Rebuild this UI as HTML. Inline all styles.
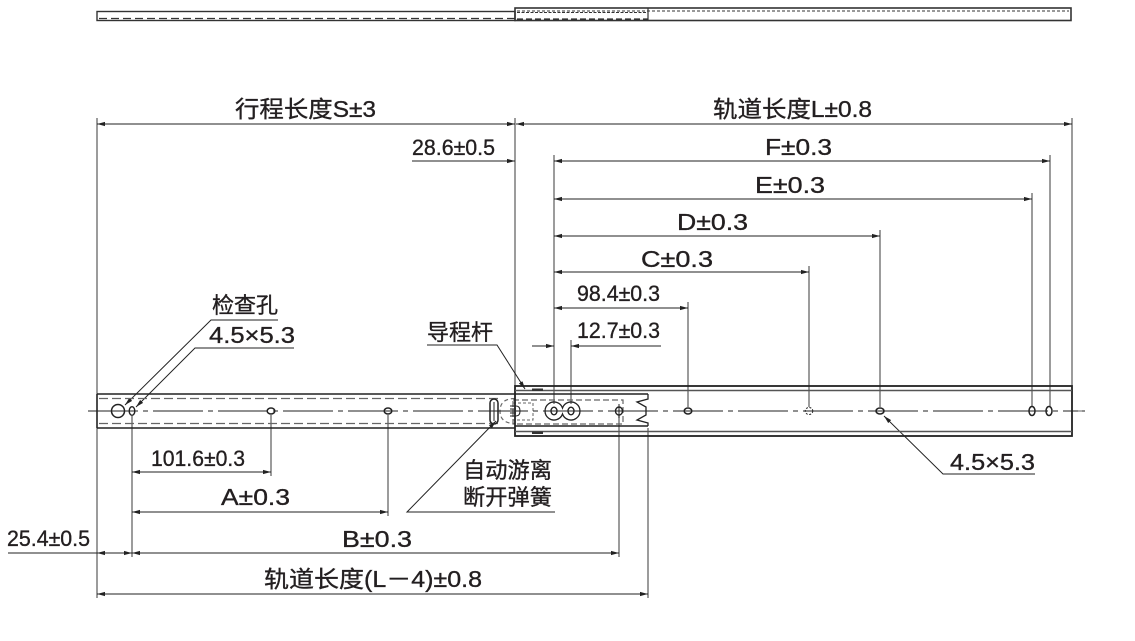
<!DOCTYPE html>
<html><head><meta charset="utf-8"><style>
html,body{margin:0;padding:0;background:#fff;}
svg{display:block;}
text{font-family:"Liberation Sans","Noto Sans CJK SC",sans-serif;fill:#231f20;stroke:#231f20;stroke-width:0.35px;}
</style></head><body>
<svg width="1135" height="641" viewBox="0 0 1135 641" xmlns="http://www.w3.org/2000/svg">
<defs>
<marker id="a" markerWidth="10" markerHeight="6" refX="8" refY="3" orient="auto-start-reverse" markerUnits="userSpaceOnUse"><path d="M0,0.9 L8,3 L0,5.1 Z" fill="#222"/></marker>
</defs>

<!-- top view bar -->
<g fill="none" stroke="#333">
<rect x="97" y="11.5" width="418" height="9" stroke-width="1.4" fill="#fff"/>
<line x1="99" y1="18.5" x2="515" y2="18.5" stroke-dasharray="8 4" stroke-width="1.2"/>
<rect x="515" y="8" width="556" height="12.5" stroke-width="1.6"/>
<line x1="517" y1="11" x2="1069" y2="11" stroke-dasharray="3 2" stroke-width="1"/>
<line x1="517" y1="12.5" x2="648" y2="12.5" stroke-dasharray="3 1.5" stroke-width="1"/>
<line x1="648" y1="8" x2="648" y2="21" stroke-width="1.2"/>
<line x1="517" y1="19.5" x2="648" y2="19.5" stroke-dasharray="6 3" stroke-width="2.2"/>
</g>

<!-- extension lines -->
<g stroke="#666" stroke-width="1.3" fill="none">
<line x1="97" y1="118" x2="97" y2="394"/>
<line x1="97" y1="428" x2="97" y2="598"/>
<line x1="515" y1="118" x2="515" y2="386"/>
<line x1="1072" y1="118" x2="1072" y2="386"/>
<line x1="554" y1="155" x2="554" y2="404"/>
<line x1="1050" y1="155" x2="1050" y2="406"/>
<line x1="1032" y1="193" x2="1032" y2="406"/>
<line x1="880" y1="230" x2="880" y2="407"/>
<line x1="809" y1="266" x2="809" y2="407"/>
<line x1="688" y1="302" x2="688" y2="407"/>
<line x1="571" y1="340" x2="571" y2="404"/>
<line x1="132" y1="416" x2="132" y2="557"/>
<line x1="271" y1="415" x2="271" y2="476"/>
<line x1="388" y1="415" x2="388" y2="516"/>
<line x1="619" y1="415" x2="619" y2="557"/>
<line x1="648" y1="428" x2="648" y2="598"/>
</g>

<!-- dimension lines -->
<g stroke="#222" stroke-width="1.1" fill="none">
<line x1="97" y1="124" x2="515" y2="124" marker-start="url(#a)" marker-end="url(#a)"/>
<line x1="516" y1="124" x2="1072" y2="124" marker-start="url(#a)" marker-end="url(#a)"/>
<line x1="412" y1="161" x2="515" y2="161" marker-end="url(#a)"/>
<line x1="554" y1="161" x2="1050" y2="161" marker-start="url(#a)" marker-end="url(#a)"/>
<line x1="554" y1="199" x2="1032" y2="199" marker-start="url(#a)" marker-end="url(#a)"/>
<line x1="554" y1="236" x2="880" y2="236" marker-start="url(#a)" marker-end="url(#a)"/>
<line x1="554" y1="272" x2="809" y2="272" marker-start="url(#a)" marker-end="url(#a)"/>
<line x1="554" y1="308" x2="688" y2="308" marker-start="url(#a)" marker-end="url(#a)"/>
<line x1="532" y1="346" x2="554" y2="346" marker-end="url(#a)"/>
<line x1="571" y1="346" x2="661" y2="346" marker-start="url(#a)"/>
<line x1="132" y1="472" x2="271" y2="472" marker-start="url(#a)" marker-end="url(#a)"/>
<line x1="132" y1="512" x2="388" y2="512" marker-start="url(#a)" marker-end="url(#a)"/>
<line x1="132" y1="553" x2="619" y2="553" marker-start="url(#a)" marker-end="url(#a)"/>
<line x1="8" y1="553" x2="97" y2="553"/>
<line x1="97" y1="553" x2="132" y2="553" marker-start="url(#a)" marker-end="url(#a)"/>
<line x1="97" y1="594" x2="648" y2="594" marker-start="url(#a)" marker-end="url(#a)"/>
</g>

<!-- leaders -->
<g stroke="#222" stroke-width="1" fill="none">
<polyline points="278,320 211,320 125,405" marker-end="url(#a)"/>
<polyline points="294,348 195,348 136,407" marker-end="url(#a)"/>
<polyline points="427,345 497,345 525,389" marker-end="url(#a)"/>
<polyline points="555,512 407,512 496,421" marker-end="url(#a)"/>
<polyline points="1035,474 943,474 884,416" marker-end="url(#a)"/>
</g>

<!-- rails -->
<g fill="none" stroke="#222">
<line x1="97" y1="394" x2="648" y2="394" stroke-width="1.6"/>
<line x1="97" y1="428" x2="515" y2="428" stroke-width="1.6"/>
<line x1="515" y1="426" x2="648" y2="426" stroke-width="1.4"/>
<line x1="97" y1="394" x2="97" y2="428" stroke-width="1.6"/>
<path d="M648,394 L648,399 L637,402 L646,407 L646,415 L637,420 L648,423 L648,426" stroke-width="1.3"/>
<line x1="99" y1="398.5" x2="500" y2="398.5" stroke="#666" stroke-width="1.2" stroke-dasharray="9 4"/>
<line x1="99" y1="423.5" x2="500" y2="423.5" stroke="#666" stroke-width="1.2" stroke-dasharray="9 4"/>
<path d="M515,398.5 Q500,398.5 500,411 Q500,423.5 515,423.5" stroke="#666" stroke-width="1.2" stroke-dasharray="4 3"/>
<rect x="513" y="400" width="110" height="24" stroke="#666" stroke-width="1.2" stroke-dasharray="6 3"/>
<rect x="513" y="403" width="20" height="17" stroke="#666" stroke-width="1" stroke-dasharray="3 2"/>
<rect x="515" y="386" width="557" height="50" stroke-width="1.8"/>
<line x1="515" y1="390.5" x2="1072" y2="390.5" stroke="#555" stroke-width="1.5"/>
<line x1="515" y1="431.5" x2="1072" y2="431.5" stroke="#555" stroke-width="1.5"/>
<rect x="532" y="388.5" width="11" height="2.5" fill="#333" stroke="none"/>
<rect x="532" y="431.5" width="11" height="2.5" fill="#333" stroke="none"/>
<line x1="88" y1="411" x2="1085" y2="411" stroke="#222" stroke-width="1" stroke-dasharray="50 5 5 5"/>
<circle cx="118" cy="411" r="6.5" stroke-width="1.5"/>
<ellipse cx="132" cy="411" rx="2.8" ry="4.3" stroke-width="1.4"/>
<ellipse cx="271" cy="411" rx="3.8" ry="3" stroke-width="1.5"/>
<ellipse cx="388" cy="411" rx="3.8" ry="3" stroke-width="1.5"/>
<ellipse cx="688" cy="411" rx="3.8" ry="3" stroke-width="1.5"/>
<ellipse cx="809" cy="411" rx="3.8" ry="3.5" stroke-width="1" stroke-dasharray="2 1.5"/>
<ellipse cx="880" cy="411" rx="4" ry="3" stroke-width="1.6"/>
<ellipse cx="1032" cy="411" rx="3" ry="4.5" stroke-width="1.5"/>
<ellipse cx="1049" cy="411" rx="3" ry="4.5" stroke-width="1.5"/>
<ellipse cx="619" cy="411" rx="3.5" ry="4" stroke-width="1.4"/>
<line x1="619" y1="404" x2="619" y2="418" stroke-width="1"/>
<path d="M562.5,408 A9,9 0 1 0 562.5,414 A9,9 0 1 0 562.5,408 Z" stroke-width="1.3"/>
<ellipse cx="554" cy="411" rx="3" ry="3.8" stroke-width="1.4"/>
<ellipse cx="571" cy="411" rx="3" ry="3.8" stroke-width="1.4"/>
<rect x="490" y="399" width="8" height="25" rx="4" stroke-width="1.5"/>
<line x1="494" y1="402" x2="494" y2="421" stroke-width="1"/>
<path d="M510,406 L516,406 Q520,406 520,411 Q520,416 516,416 L510,416 M510,409 L516,409 M510,413 L516,413" stroke-width="1.1"/>
<line x1="1078" y1="411" x2="1082" y2="411" stroke="#666"/>
</g>

<!-- labels -->
<g>
<text x="235" y="117" font-size="23" textLength="141" lengthAdjust="spacingAndGlyphs">行程长度S±3</text>
<text x="713" y="117" font-size="23" textLength="159" lengthAdjust="spacingAndGlyphs">轨道长度L±0.8</text>
<text x="412" y="155" font-size="22" textLength="83" lengthAdjust="spacingAndGlyphs">28.6±0.5</text>
<text x="765" y="155" font-size="23" textLength="67" lengthAdjust="spacingAndGlyphs">F±0.3</text>
<text x="755" y="193" font-size="23" textLength="70" lengthAdjust="spacingAndGlyphs">E±0.3</text>
<text x="677" y="230" font-size="23" textLength="71" lengthAdjust="spacingAndGlyphs">D±0.3</text>
<text x="641" y="267" font-size="23" textLength="72" lengthAdjust="spacingAndGlyphs">C±0.3</text>
<text x="577" y="301" font-size="22" textLength="83" lengthAdjust="spacingAndGlyphs">98.4±0.3</text>
<text x="577" y="338" font-size="22" textLength="83" lengthAdjust="spacingAndGlyphs">12.7±0.3</text>
<text x="151" y="466" font-size="22" textLength="94" lengthAdjust="spacingAndGlyphs">101.6±0.3</text>
<text x="221" y="505" font-size="23" textLength="69" lengthAdjust="spacingAndGlyphs">A±0.3</text>
<text x="342" y="547" font-size="23" textLength="70" lengthAdjust="spacingAndGlyphs">B±0.3</text>
<text x="7" y="546" font-size="22" textLength="83" lengthAdjust="spacingAndGlyphs">25.4±0.5</text>
<text x="264" y="587" font-size="23" textLength="218" lengthAdjust="spacingAndGlyphs">轨道长度(L－4)±0.8</text>
<text x="212" y="313" font-size="22" textLength="66" lengthAdjust="spacingAndGlyphs">检查孔</text>
<text x="209" y="343" font-size="23" textLength="86" lengthAdjust="spacingAndGlyphs">4.5×5.3</text>
<text x="427" y="340" font-size="22" textLength="66" lengthAdjust="spacingAndGlyphs">导程杆</text>
<text x="463" y="478" font-size="22" textLength="89" lengthAdjust="spacingAndGlyphs">自动游离</text>
<text x="463" y="505" font-size="22" textLength="89" lengthAdjust="spacingAndGlyphs">断开弹簧</text>
<text x="950" y="470" font-size="23" textLength="85" lengthAdjust="spacingAndGlyphs">4.5×5.3</text>
</g>
</svg>
</body></html>
